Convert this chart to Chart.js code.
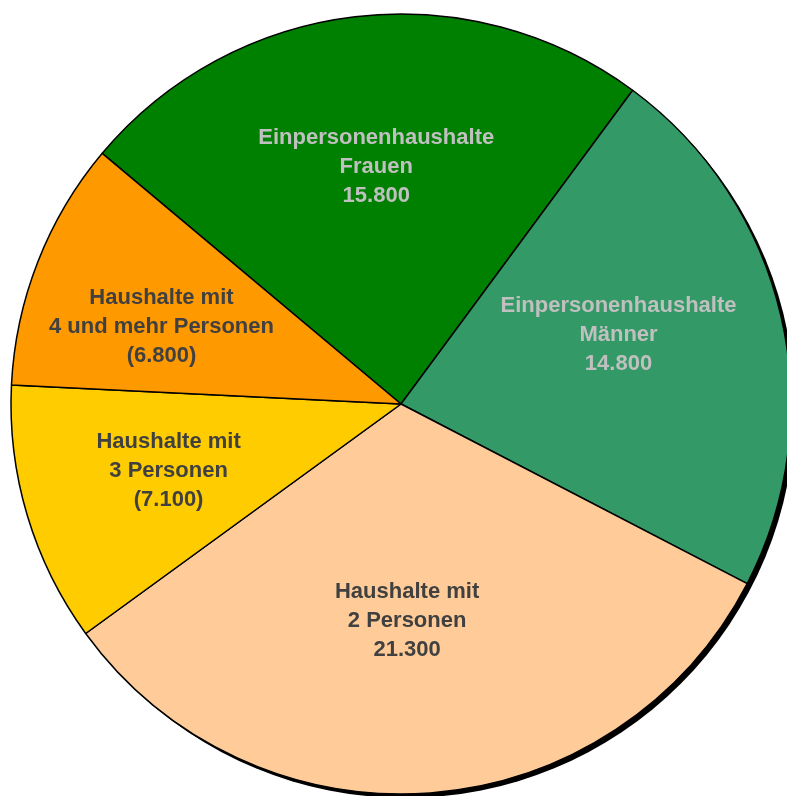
<!DOCTYPE html>
<html>
<head>
<meta charset="utf-8">
<script src="https://cdn.jsdelivr.net/npm/chart.js@4"></script>
<style>
  html, body { margin: 0; padding: 0; background: #fff; overflow: hidden; }
  canvas { display: block; }
</style>
</head>
<body>
<canvas id="canvas" width="802" height="808"></canvas>
<script>
const categories = [
    ['Einpersonenhaushalte', 'Frauen'],
    ['Einpersonenhaushalte', 'Männer'],
    ['Haushalte mit', '2 Personen'],
    ['Haushalte mit', '3 Personen'],
    ['Haushalte mit', '4 und mehr Personen']
];
const households = [15800, 14800, 21300, 7100, 6800];
const inBrackets = [false, false, false, true, true];

const sliceColors = ['#008000', '#339966', '#FFCC99', '#FFCC00', '#FF9900'];
const textColors = ['#C0C0C0', '#C0C0C0', '#404040', '#404040', '#404040'];
// label placement: share of radius, angle shift in degrees
const labelPlace = [[0.61, 0.8], [0.585, -4.5], [0.556, 2.7], [0.62, 0.6], [0.645, -3.6]];

function formatNumber(n) {
    return String(n).replace(/\B(?=(\d{3})+(?!\d))/g, '.');
}

// black drop shadow behind the pie
const shadowPlugin = {
    id: 'shadow',
    beforeDatasetsDraw(chart) {
        const arc = chart.getDatasetMeta(0).data[0];
        if (!arc) return;
        const ctx = chart.ctx;
        ctx.save();
        ctx.fillStyle = '#000';
        ctx.beginPath();
        ctx.arc(arc.x + 4, arc.y + 4, arc.outerRadius, 0, Math.PI * 2);
        ctx.fill();
        ctx.restore();
    }
};

// labels inside the slices
const sliceLabels = {
    id: 'sliceLabels',
    afterDatasetsDraw(chart) {
        const ctx = chart.ctx;
        const meta = chart.getDatasetMeta(0);
        ctx.save();
        ctx.font = 'bold 22px "Liberation Sans", Arial, sans-serif';
        ctx.textAlign = 'center';
        ctx.textBaseline = 'middle';
        meta.data.forEach((arc, i) => {
            const mid = (arc.startAngle + arc.endAngle) / 2 + labelPlace[i][1] * Math.PI / 180;
            const r = arc.outerRadius * labelPlace[i][0];
            const x = arc.x + Math.cos(mid) * r;
            const y = arc.y + Math.sin(mid) * r;
            let value = formatNumber(households[i]);
            if (inBrackets[i]) value = '(' + value + ')';
            const lines = categories[i].concat([value]);
            const lh = 29;
            ctx.fillStyle = textColors[i];
            lines.forEach((line, j) => {
                ctx.fillText(line, x, y + (j - (lines.length - 1) / 2) * lh);
            });
        });
        ctx.restore();
    }
};

var ctx = document.getElementById('canvas').getContext('2d');
window.myPie = new Chart(ctx, {
    type: 'pie',
    data: {
        labels: categories.map(c => c.join(' ')),
        datasets: [{
            data: households,
            backgroundColor: sliceColors,
            borderColor: '#000',
            borderWidth: 1.5
        }]
    },
    options: {
        responsive: false,
        animation: false,
        rotation: -50,
        radius: 390,
        layout: { padding: 0 },
        plugins: {
            legend: { display: false },
            tooltip: { enabled: false }
        }
    },
    plugins: [shadowPlugin, sliceLabels]
});
</script>
</body>
</html>
